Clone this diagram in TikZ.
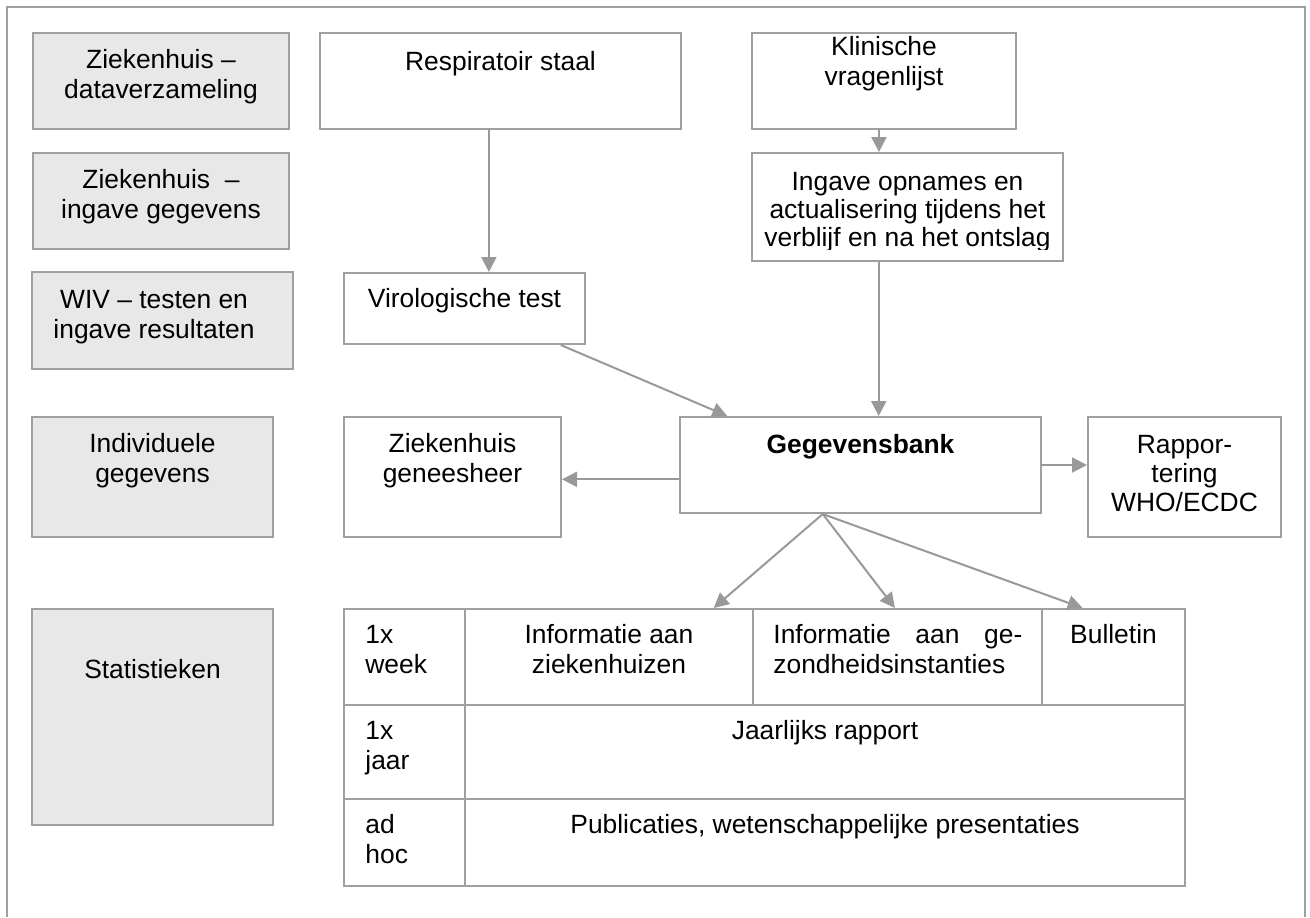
\documentclass[tikz,border=0pt]{standalone}
\usepackage{fontspec}
\setmainfont{Liberation Sans}
\usetikzlibrary{arrows.meta,calc,fit}
\definecolor{ln}{HTML}{A0A0A0}
\definecolor{ar}{HTML}{999999}
\definecolor{gfill}{HTML}{E8E8E8}
\begin{document}
\begin{tikzpicture}[x=0.5pt,y=-0.5pt,
  frame/.style={draw=ln, line width=1pt},
  box/.style={draw=ln, line width=1pt, inner sep=0pt},
  gbox/.style={box, fill=gfill},
  txt/.style={inner sep=0pt, anchor=base, align=center, font=\fontsize{13.2pt}{15pt}\selectfont},
  ltxt/.style={txt, align=left, anchor=base west},
  arr/.style={draw=ar, line width=1pt, -{Triangle[length=7.5pt,width=7.5pt]}}]
\useasboundingbox (0,0) rectangle (1310,917);
% outer frame (open at bottom)
\draw[frame] (7,917) -- (7,7) -- (1305,7) -- (1305,917);

% left column (text nodes anchored at the baseline of their last line)
\node[gbox, fit={(33,33)(289,129)}] (L1) {};
\node[txt] (L1t) at (161,98) {Ziekenhuis –\\dataverzameling};
\node[gbox, fit={(33,153)(289,249)}] (L2) {};
\node[txt] (L2t) at (161,218) {Ziekenhuis\ \ –\\ingave gegevens};
\node[gbox, fit={(32,272)(293,369)}] (L3) {};
\node[txt] (L3t) at (154,338) {WIV – testen en\\ingave resultaten};
\node[gbox, fit={(32,417)(273,537)}] (L4) {};
\node[txt] (L4t) at (152.5,482) {Individuele\\gegevens};
\node[gbox, fit={(32,609)(273,825)}] (L5) {};
\node[txt] (L5t) at (152.5,678) {Statistieken};

% flow boxes
\node[box, fit={(320,33)(681,129)}] (resp) {};
\node[txt] (respt) at (500.5,70) {Respiratoir staal};
\node[box, fit={(752,33)(1016,129)}] (klin) {};
\node[txt] (klint) at (884,85) {Klinische\\vragenlijst};
\node[box, fit={(752,153)(1063,261)}] (ing) {};
\begin{scope}
  \clip (752,153) rectangle (1063,249);
  \node[txt, font=\fontsize{13.2pt}{14pt}\selectfont] (ingt) at (907.5,246) {Ingave opnames en\\actualisering tijdens het\\verblijf en na het ontslag};
\end{scope}
\node[box, fit={(344,273)(585,344)}] (vir) {};
\node[txt] (virt) at (464.5,307) {Virologische test};
\node[box, fit={(680,417)(1041,513)}] (gb) {};
\node[txt, font=\fontsize{13.2pt}{15pt}\selectfont\bfseries] (gbt) at (860.5,453) {Gegevensbank};
\node[box, fit={(344,417)(561,537)}] (gzh) {};
\node[txt] (gzht) at (452.5,482) {Ziekenhuis\\geneesheer};
\node[box, fit={(1088,417)(1281,537)}] (rapp) {};
\node[txt, font=\fontsize{13.2pt}{14.5pt}\selectfont] (rappt) at (1184.5,511) {Rappor-\\tering\\WHO/ECDC};

% table
\node[box, fit={(344,609)(465,705)}] (c11) {};
\node[box, fit={(465,609)(753,705)}] (c12) {};
\node[box, fit={(753,609)(1042,705)}] (c13) {};
\node[box, fit={(1042,609)(1185,705)}] (c14) {};
\node[box, fit={(344,705)(465,799)}] (c21) {};
\node[box, fit={(465,705)(1185,799)}] (c22) {};
\node[box, fit={(344,799)(465,886)}] (c31) {};
\node[box, fit={(465,799)(1185,886)}] (c32) {};
\node[ltxt] (c11t) at (365,673) {1x\\week};
\node[txt] (c12t) at (609,673) {Informatie aan\\ziekenhuizen};
\node[ltxt] (c13t) at (773,673) {\makebox[124.5pt][s]{Informatie aan ge-}\\zondheidsinstanties};
\node[txt] (c14t) at (1113.5,643) {Bulletin};
\node[ltxt] (c21t) at (365,769) {1x\\jaar};
\node[txt] (c22t) at (825,739) {Jaarlijks rapport};
\node[ltxt] (c31t) at (365,863) {ad\\hoc};
\node[txt] (c32t) at (825,833) {Publicaties, wetenschappelijke presentaties};

% connectors
\coordinate (a1) at ($(resp.south west)!0.468!(resp.south east)$);
\draw[arr] (a1) -- (a1 |- vir.north);
\coordinate (a2) at ($(klin.south west)!0.481!(klin.south east)$);
\draw[arr] (a2) -- (a2 |- ing.north);
\coordinate (a3) at ($(ing.south west)!0.408!(ing.south east)$);
\draw[arr] (a3) -- (a3 |- gb.north);
\draw[arr] ($(vir.south west)!0.896!(vir.south east)$) -- ($(gb.north west)!0.133!(gb.north east)$);
\coordinate (a4) at ($(gb.north west)!0.646!(gb.south west)$);
\draw[arr] (a4) -- (a4 -| gzh.east);
\draw[arr] (gb.east) -- (gb.east -| rapp.west);
\coordinate (gbs) at ($(gb.south west)!0.396!(gb.south east)$);
\draw[arr] (gbs) -- ($(c12.north west)!0.861!(c12.north east)$);
\draw[arr] (gbs) -- ($(c13.north west)!0.491!(c13.north east)$);
\draw[arr] (gbs) -- ($(c14.north west)!0.287!(c14.north east)$);
\end{tikzpicture}
\end{document}
